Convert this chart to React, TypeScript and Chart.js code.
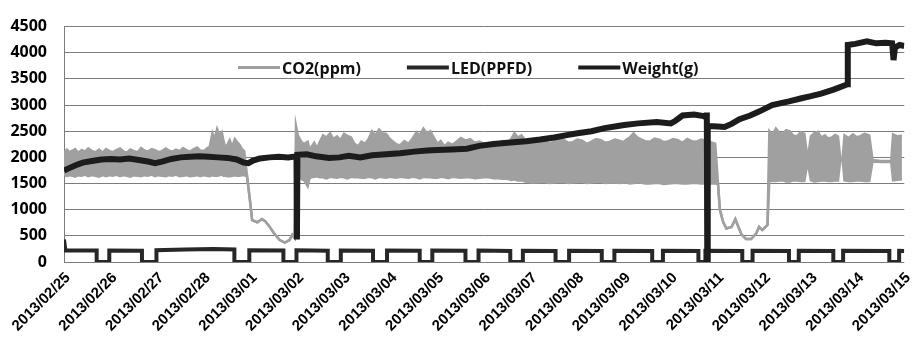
import { useEffect, useRef } from 'react';
import { Chart, registerables } from 'chart.js';

Chart.register(...registerables);

const dateLabels = [
  '2013/02/25', '2013/02/26', '2013/02/27', '2013/02/28', '2013/03/01',
  '2013/03/02', '2013/03/03', '2013/03/04', '2013/03/05', '2013/03/06',
  '2013/03/07', '2013/03/08', '2013/03/09', '2013/03/10', '2013/03/11',
  '2013/03/12', '2013/03/13', '2013/03/14', '2013/03/15',
];

const seriesNames = ['CO2(ppm)', 'LED(PPFD)', 'Weight(g)'];

// CO2 (ppm): day offset from 2013/02/25, upper and lower envelope of the dense trace
const co2Days = [
  0.00, 0.06, 0.12, 0.18, 0.24, 0.30, 0.38, 0.45, 0.52, 0.60, 0.68, 0.75, 0.83, 0.90, 0.98,
  1.05, 1.12, 1.20, 1.28, 1.35, 1.42, 1.50, 1.58, 1.65, 1.72, 1.80, 1.88, 1.95, 2.02, 2.10,
  2.18, 2.25, 2.32, 2.40, 2.48, 2.55, 2.62, 2.70, 2.78, 2.85, 2.92, 3.00, 3.06, 3.12, 3.18,
  3.23, 3.28, 3.33, 3.38, 3.42, 3.46, 3.51, 3.55, 3.60, 3.66, 3.71, 3.76, 3.81, 3.86, 3.92,
  3.98, 4.03, 4.14, 4.24, 4.31, 4.40, 4.49, 4.62, 4.73, 4.83, 4.89, 4.94,
  4.97, 5.01, 5.05, 5.10, 5.15, 5.22, 5.26, 5.30, 5.36, 5.42, 5.48, 5.55, 5.62, 5.70, 5.77,
  5.85, 5.92, 6.00, 6.07, 6.15, 6.22, 6.30, 6.37, 6.45, 6.52, 6.60, 6.67, 6.75, 6.82, 6.90,
  6.97, 7.05, 7.12, 7.20, 7.29, 7.38, 7.46, 7.55, 7.62, 7.70, 7.77, 7.85, 7.92, 8.00, 8.07,
  8.15, 8.23, 8.32, 8.41, 8.50, 8.60, 8.70, 8.80, 8.90, 9.00, 9.10, 9.20, 9.30, 9.40, 9.50,
  9.58, 9.65, 9.72, 9.80, 9.88, 9.95, 10.02, 10.10, 10.20, 10.30, 10.40, 10.50, 10.60, 10.70,
  10.80, 10.90, 11.00, 11.10, 11.20, 11.30, 11.40, 11.50, 11.60, 11.70, 11.80, 11.90, 11.98,
  12.05, 12.12, 12.20, 12.27, 12.35, 12.45, 12.55, 12.65, 12.75, 12.85, 12.95, 13.05, 13.15,
  13.25, 13.35, 13.45, 13.55, 13.65, 13.75, 13.85, 13.95, 14.01,
  14.05, 14.12, 14.19, 14.30, 14.38, 14.51, 14.61, 14.72, 14.83, 14.89, 14.96, 15.07,
  15.11, 15.18, 15.25, 15.32, 15.40, 15.47, 15.55, 15.62, 15.70, 15.78, 15.86, 15.93, 16.00,
  16.07, 16.15, 16.22, 16.30, 16.37, 16.45, 16.52, 16.58, 16.63, 16.68, 16.72, 16.81, 16.90,
  16.97, 17.05, 17.15, 17.25, 17.32, 17.50, 17.72, 17.76, 17.85, 17.95,
];
const co2High = [
  2080, 2150, 2100, 2130, 2160, 2090, 2140, 2110, 2170, 2120, 2100, 2150, 2090, 2160, 2120,
  2100, 2140, 2170, 2110, 2090, 2150, 2120, 2100, 2180, 2130, 2110, 2160, 2140, 2100, 2120,
  2170, 2130, 2110, 2150, 2120, 2180, 2140, 2110, 2160, 2190, 2130, 2120, 2170, 2200, 2460,
  2350, 2540, 2420, 2480, 2300, 2180, 2260, 2330, 2200, 2350, 2290, 2240, 2160, 2120, 1660,
  1200, 800, 760, 820, 780, 680, 560, 420, 370, 420, 520, 460,
  2600, 2420, 2350, 2280, 2260, 2300, 2150, 2200, 2280, 2170, 2300, 2420, 2380, 2460, 2350,
  2400, 2330, 2450, 2410, 2380, 2260, 2210, 2300, 2260, 2340, 2500, 2420, 2530, 2460, 2450,
  2360, 2300, 2250, 2230, 2310, 2260, 2350, 2480, 2420, 2550, 2460, 2500, 2380, 2260, 2310,
  2210, 2280, 2240, 2300, 2370, 2320, 2350, 2280, 2300, 2260, 2230, 2290, 2260, 2310, 2280,
  2350, 2460, 2380, 2420, 2330, 2300, 2350, 2280, 2340, 2320, 2270, 2300, 2350, 2340,
  2280, 2290, 2340, 2320, 2260, 2300, 2350, 2330, 2280, 2300, 2340, 2320, 2290,
  2340, 2380, 2460, 2390, 2350, 2310, 2300, 2360, 2340, 2290, 2310, 2350, 2330,
  2280, 2350, 2310, 2300, 2340, 2320, 2290, 2260, 1500,
  1000, 765, 640, 670, 820, 530, 440, 440, 550, 670, 610, 710,
  2500, 2430, 2550, 2470, 2450, 2520, 2500, 2420, 2400, 2480, 2450, 1960, 2400,
  2460, 2490, 2380, 2420, 2360, 2380, 2430, 2400, 1980, 1980, 2420, 2370, 2440,
  2390, 2400, 2450, 2420, 1950, 1930, 1930, 2440, 2400, 2420,
];
const co2Low = [
  1680, 1640, 1660, 1650, 1630, 1660, 1650, 1670, 1640, 1660, 1650, 1630, 1660, 1640, 1660,
  1650, 1670, 1640, 1660, 1650, 1630, 1660, 1650, 1640, 1660, 1650, 1670, 1640, 1660, 1650,
  1640, 1660, 1650, 1670, 1640, 1650, 1660, 1640, 1650, 1660, 1640, 1660, 1650, 1640, 1660,
  1650, 1650, 1660, 1670, 1650, 1650, 1640, 1640, 1650, 1660, 1650, 1650, 1660, 1660, 1640,
  1200, 800, 760, 820, 780, 680, 560, 420, 370, 420, 520, 460,
  1700, 1640, 1610, 1580, 1560, 1450, 1600, 1620, 1630, 1640, 1620, 1620, 1600, 1630, 1620,
  1610, 1630, 1620, 1600, 1630, 1620, 1620, 1610, 1610, 1630, 1620, 1600, 1630, 1620, 1610,
  1630, 1620, 1610, 1630, 1620, 1610, 1630, 1620, 1600, 1630, 1620, 1620, 1610, 1610, 1630,
  1620, 1600, 1630, 1620, 1610, 1620, 1620, 1600, 1610, 1620, 1620, 1600, 1600, 1590, 1590,
  1570, 1580, 1560, 1560, 1540, 1530, 1520, 1520, 1530, 1530, 1510, 1520, 1530, 1530,
  1510, 1520, 1530, 1530, 1510, 1520, 1530, 1530, 1510, 1520, 1520, 1510, 1520,
  1520, 1500, 1510, 1520, 1520, 1500, 1500, 1510, 1510, 1490, 1500, 1510, 1510,
  1500, 1500, 1510, 1510, 1500, 1500, 1500, 1500, 1490,
  1000, 765, 640, 670, 820, 530, 440, 440, 550, 670, 610, 710,
  1560, 1550, 1550, 1560, 1560, 1540, 1540, 1560, 1560, 1550, 1550, 1920, 1560,
  1540, 1550, 1560, 1560, 1550, 1550, 1560, 1560, 1950, 1950, 1560, 1550, 1550,
  1560, 1560, 1550, 1550, 1920, 1910, 1910, 1560, 1570, 1580,
];

// LED (PPFD): square wave, day offset and value
const ledDays = [
  0.00, 0.03, 0.70, 0.70, 0.97, 0.97, 1.67, 1.67, 1.98, 1.98, 2.60, 3.20, 3.65, 3.65, 3.97, 3.97,
  4.70, 4.70, 4.98, 4.98, 5.65, 5.65, 5.93, 5.93, 6.62, 6.62, 6.92, 6.92, 7.62, 7.62, 7.89, 7.89,
  8.60, 8.60, 8.88, 8.88, 9.56, 9.56, 9.83, 9.83, 10.53, 10.53, 10.82, 10.82, 11.52, 11.52,
  11.79, 11.79, 12.60, 12.60, 12.83, 12.83, 13.59, 13.59, 13.74, 13.74, 14.53, 14.53, 14.75,
  14.75, 15.53, 15.53, 15.74, 15.74, 16.48, 16.48, 16.69, 16.69, 17.68, 17.68, 17.89, 17.89, 18.00,
];
const ledValues = [
  430, 220, 220, 0, 0, 220, 215, 0, 0, 225, 240, 250, 240, 0, 0, 225,
  220, 0, 0, 225, 215, 0, 0, 220, 215, 0, 0, 220, 215, 0, 0, 220,
  215, 0, 0, 220, 210, 0, 0, 215, 210, 0, 0, 215, 210, 0,
  0, 215, 210, 0, 0, 215, 210, 0, 0, 215, 210, 0, 0,
  215, 210, 0, 0, 215, 210, 0, 0, 215, 210, 0, 0, 215, 210,
];

// Weight (g): day offset and value
const weightDays = [
  0.00, 0.10, 0.25, 0.40, 0.60, 0.80, 1.00, 1.20, 1.40, 1.60, 1.80, 1.95, 2.10, 2.30, 2.50,
  2.70, 2.90, 3.10, 3.30, 3.50, 3.70, 3.85, 3.95, 4.05, 4.20, 4.40, 4.60, 4.80, 4.98, 4.99,
  5.00, 5.20, 5.40, 5.68, 5.90, 6.10, 6.35, 6.60, 6.90, 7.20, 7.50, 7.78, 8.00, 8.30, 8.63,
  8.90, 9.20, 9.50, 9.90, 10.20, 10.50, 10.80, 11.00, 11.30, 11.58, 11.80, 12.00, 12.30,
  12.70, 13.00, 13.10, 13.25, 13.50, 13.70, 13.76, 13.77, 13.78, 13.79, 14.00, 14.15, 14.30,
  14.47, 14.70, 14.90, 15.17, 15.53, 15.80, 16.00, 16.22, 16.50, 16.73, 16.78, 16.79, 16.95,
  17.20, 17.40, 17.60, 17.74, 17.77, 17.80, 17.90, 18.00,
];
const weightValues = [
  1750, 1790, 1850, 1900, 1930, 1960, 1970, 1960, 1980, 1950, 1920, 1890, 1920, 1970, 2000,
  2010, 2020, 2010, 2000, 1990, 1960, 1900, 1890, 1940, 1980, 2000, 2010, 2000, 2020, 430,
  2050, 2060, 2020, 1990, 2000, 2030, 2000, 2040, 2060, 2080, 2110, 2130, 2140, 2150, 2165,
  2220, 2255, 2280, 2310, 2340, 2380, 2430, 2460, 2500, 2560, 2590, 2620, 2650,
  2675, 2650, 2700, 2800, 2820, 2790, 2760, 2860, 0, 2600, 2590, 2580, 2640,
  2730, 2800, 2880, 3000, 3070, 3130, 3170, 3220, 3300, 3380, 3400, 4150, 4170,
  4220, 4180, 4190, 4180, 3860, 4100, 4150, 4130,
];

const CO2_COLOR = '#a0a0a0';
const LED_COLOR = '#272727';
const WEIGHT_COLOR = '#1c1c1c';
const GRID_COLOR = '#7c7c7c';

const toPoints = (xs: number[], ys: number[]) => xs.map((x, i) => ({ x, y: ys[i] }));

const insideLegend = {
  id: 'insideLegend',
  afterDatasetsDraw(chart: any) {
    const { ctx, chartArea } = chart;
    const items = [
      { label: seriesNames[0], color: CO2_COLOR, width: 3 },
      { label: seriesNames[1], color: LED_COLOR, width: 4 },
      { label: seriesNames[2], color: WEIGHT_COLOR, width: 4 },
    ];
    ctx.save();
    ctx.font = 'bold 16px "Open Sans", sans-serif';
    ctx.textBaseline = 'middle';
    ctx.textAlign = 'left';
    let x = chartArea.left + 174;
    const yLine = chartArea.top + 41;
    for (const it of items) {
      ctx.strokeStyle = it.color;
      ctx.lineWidth = it.width;
      ctx.beginPath();
      ctx.moveTo(x, yLine);
      ctx.lineTo(x + 42, yLine);
      ctx.stroke();
      ctx.fillStyle = '#111';
      ctx.fillText(it.label, x + 44, yLine + 2);
      x += 44 + ctx.measureText(it.label).width + 46;
    }
    ctx.restore();
  },
};

export default function App() {
  const ref = useRef<HTMLCanvasElement | null>(null);

  useEffect(() => {
    if (!ref.current) return;
    const chart = new Chart(ref.current, {
      type: 'line',
      data: {
        datasets: [
          {
            label: seriesNames[2],
            data: toPoints(weightDays, weightValues),
            borderColor: WEIGHT_COLOR,
            borderWidth: 6,
            pointRadius: 0,
            tension: 0,
            fill: false,
            order: 0,
          },
          {
            label: seriesNames[1],
            data: toPoints(ledDays, ledValues),
            borderColor: LED_COLOR,
            borderWidth: 4,
            pointRadius: 0,
            tension: 0,
            fill: false,
            order: 1,
          },
          {
            label: seriesNames[0],
            data: toPoints(co2Days, co2High),
            borderColor: CO2_COLOR,
            borderWidth: 2.5,
            pointRadius: 0,
            tension: 0,
            fill: false,
            order: 2,
          },
          {
            label: seriesNames[0] + ' low',
            data: toPoints(co2Days, co2Low),
            borderColor: CO2_COLOR,
            backgroundColor: CO2_COLOR,
            borderWidth: 2.5,
            pointRadius: 0,
            tension: 0,
            fill: '-1',
            order: 3,
          },
        ],
      },
      options: {
        animation: false,
        responsive: true,
        maintainAspectRatio: false,
        layout: { padding: { top: 15, right: 7, left: 0, bottom: 0 } },
        plugins: {
          legend: { display: false },
          tooltip: { enabled: false },
        },
        scales: {
          x: {
            type: 'linear',
            min: 0,
            max: dateLabels.length - 1,
            grid: { display: false, drawTicks: false },
            border: { display: false },
            ticks: {
              stepSize: 1,
              autoSkip: false,
              maxRotation: 45,
              minRotation: 45,
              padding: 7,
              labelOffset: 4,
              color: '#000',
              font: { family: '"Liberation Sans", Arial, sans-serif', size: 15, weight: 'bold' },
              callback: (v: any) => dateLabels[Math.round(Number(v))] ?? '',
            },
            afterFit: (s: any) => { s.height = 79; },
          },
          y: {
            min: 0,
            max: 4500,
            grid: { color: GRID_COLOR, lineWidth: 1, drawTicks: false },
            border: { display: true, color: GRID_COLOR, width: 1 },
            ticks: {
              stepSize: 500,
              padding: 17,
              color: '#000',
              font: { family: '"Open Sans", sans-serif', size: 16, weight: 'bold' },
              callback: (v: any) => String(v),
            },
            afterFit: (s: any) => { s.width = 64; },
          },
        },
      },
      plugins: [insideLegend],
    });
    return () => chart.destroy();
  }, []);

  return (
    <div style={{ position: 'fixed', left: 0, top: 0, width: 924, height: 341, background: '#fff' }}>
      <canvas ref={ref} />
    </div>
  );
}
